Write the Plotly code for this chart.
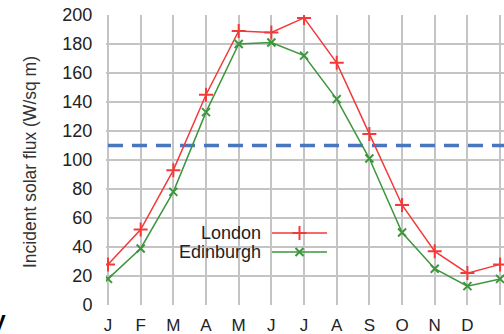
import plotly.graph_objects as go

months = ["J", "F", "M", "A", "M", "J", "J", "A", "S", "O", "N", "D", "J"]
london = [28, 52, 93, 145, 189, 188, 198, 167, 118, 69, 37, 22, 28]
edinburgh = [18, 39, 78, 133, 180, 181, 172, 142, 101, 50, 25, 13, 18]
threshold = 110
y_ticks = [0, 20, 40, 60, 80, 100, 120, 140, 160, 180, 200]
y_title = "Incident solar flux (W/sq m)"

W, H = 504, 334
L, R, T, B = 106, 0, 15, 29
PW, PH = W - L - R, H - T - B

def px(x):
    return (x - L) / PW

def py(y):
    return (H - B - y) / PH

xpos = list(range(len(months)))
FONT = "Liberation Sans, Arial, sans-serif"
RED = "#f23a3a"
GREEN = "#3c963c"

fig = go.Figure()
fig.add_trace(go.Scatter(x=[0, len(months)], y=[threshold, threshold], mode="lines",
                         line=dict(color="#4a76c0", width=3.5, dash="15px,9px"),
                         showlegend=False, hoverinfo="skip"))
fig.add_trace(go.Scatter(x=xpos, y=london, mode="lines+markers", name="London",
                         line=dict(color=RED, width=1.5),
                         marker=dict(symbol="cross-thin", size=10, line=dict(color=RED, width=2)),
                         showlegend=False))
fig.add_trace(go.Scatter(x=xpos, y=edinburgh, mode="lines+markers", name="Edinburgh",
                         line=dict(color=GREEN, width=1.5),
                         marker=dict(symbol="x-thin", size=8, line=dict(color=GREEN, width=2)),
                         showlegend=False))

# manual legend (text left of sample, as in reference)
legend_rows = [("London", RED, "cross-thin", 10, 233), ("Edinburgh", GREEN, "x-thin", 8, 252)]
shapes = [dict(type="rect", xref="paper", yref="paper", x0=px(157), x1=px(338),
               y0=py(272), y1=py(220), fillcolor="white", line=dict(width=0), layer="between")]
annotations = []
for name, col, sym, sz, yy in legend_rows:
    shapes.append(dict(type="line", xref="paper", yref="paper", x0=px(272), x1=px(327),
                       y0=py(yy), y1=py(yy), line=dict(color=col, width=1.5), layer="above"))
    annotations.append(dict(text=name, xref="paper", yref="paper", x=px(263), y=py(yy),
                            xanchor="right", yanchor="middle", showarrow=False,
                            font=dict(family=FONT, size=18, color="#222")))
    fig.add_trace(go.Scatter(x=[299.5], y=[yy], xaxis="x2", yaxis="y2", mode="markers",
                             marker=dict(symbol=sym, size=sz, line=dict(color=col, width=2)),
                             showlegend=False, hoverinfo="skip"))

annotations.append(dict(text=y_title, xref="paper", yref="paper", x=px(30), y=py(162),
                        xanchor="center", yanchor="middle", textangle=-90, showarrow=False,
                        font=dict(family=FONT, size=17.5, color="#333")))
annotations.append(dict(text="<b>V</b>", xref="paper", yref="paper", x=px(8), y=py(322),
                        xanchor="right", yanchor="middle", showarrow=False,
                        font=dict(family=FONT, size=22, color="#000")))

fig.update_layout(
    width=W, height=H, margin=dict(l=L, r=R, t=T, b=B, autoexpand=False),
    plot_bgcolor="white", paper_bgcolor="white",
    font=dict(family=FONT, color="#222"),
    xaxis=dict(range=[-0.061, 12.12], tickvals=xpos, ticktext=months, automargin=False,
               showgrid=True, gridcolor="#c4c4c4", gridwidth=1.5, zeroline=False,
               showline=False, tickfont=dict(size=17, color="#222"),
               ticks="outside", ticklen=5, tickcolor="rgba(0,0,0,0)"),
    yaxis=dict(range=[0, 200], tickvals=y_ticks, showgrid=True, gridcolor="#c4c4c4",
               gridwidth=1.5, zeroline=False, showline=False, automargin=False,
               tickfont=dict(size=18, color="#222"),
               ticks="outside", ticklen=9, tickcolor="rgba(0,0,0,0)"),
    xaxis2=dict(overlaying="x", anchor="y2", range=[L, W - R], visible=False),
    yaxis2=dict(overlaying="y", anchor="x2", range=[H - B, T], visible=False),
    shapes=shapes, annotations=annotations,
)

fig.write_html("out.html", config={"displayModeBar": False},
               post_script="document.body.style.margin='0';document.body.style.overflow='hidden';")
